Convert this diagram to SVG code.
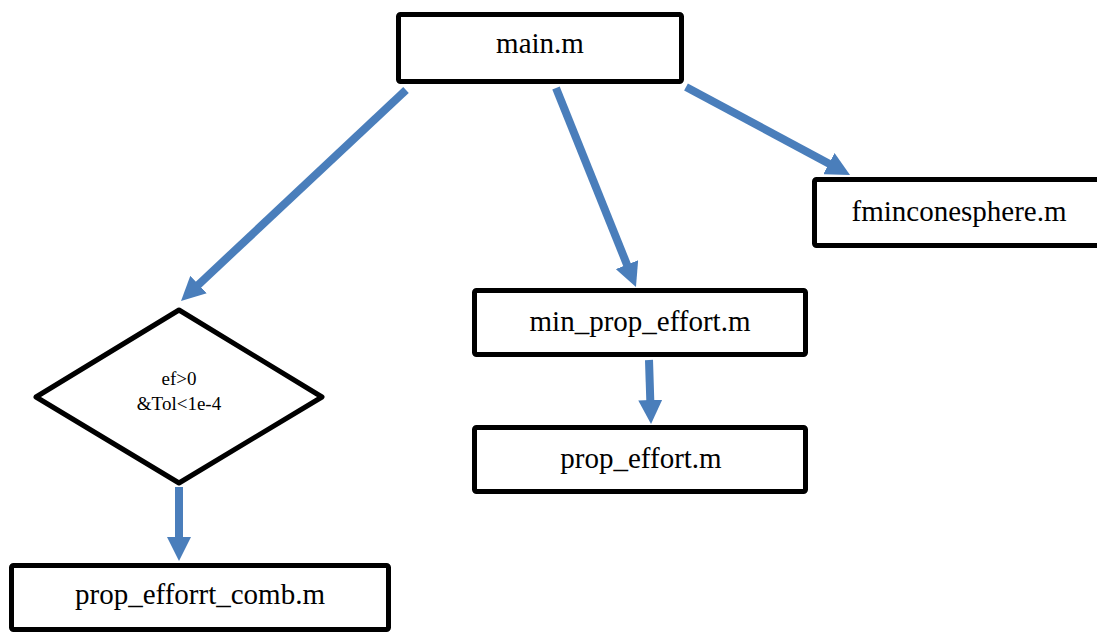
<svg xmlns="http://www.w3.org/2000/svg" width="1097" height="633" viewBox="0 0 1097 633">
<style>
.box{fill:#fff;stroke:#000;stroke-width:5;stroke-linejoin:round}
.lbl{font-family:"Liberation Serif","Times New Roman",serif;font-size:29px;fill:#000;text-anchor:middle}
.small{font-size:19px}
.conn{stroke:#4a7ebb;stroke-width:8;fill:none;marker-end:url(#ah)}
</style>
<defs>
<marker id="ah" markerUnits="userSpaceOnUse" markerWidth="24" markerHeight="24" refX="4" refY="12" orient="auto">
<path d="M0,0 L24,12 L0,24 z" fill="#4a7ebb"/>
</marker>
</defs>
<rect width="1097" height="633" fill="#fff"/>
<g id="connectors">
<line class="conn" x1="406" y1="90" x2="195.6" y2="287.3"/>
<line class="conn" x1="556" y1="88" x2="628.5" y2="268.4"/>
<line class="conn" x1="686" y1="87" x2="832.4" y2="165.5"/>
<line class="conn" x1="649" y1="360" x2="650.4" y2="404"/>
<line class="conn" x1="179" y1="487" x2="179" y2="541"/>
</g>
<g id="main">
<rect class="box" x="398.5" y="14.5" width="283" height="67" rx="2"/>
<text class="lbl" x="540" y="53">main.m</text>
</g>
<g id="fminconesphere">
<rect class="box" x="814.5" y="179.5" width="300" height="66" rx="2"/>
<text class="lbl" x="959" y="221">fminconesphere.m</text>
</g>
<g id="min_prop_effort">
<rect class="box" x="474.5" y="290.5" width="331" height="64" rx="2"/>
<text class="lbl" x="640" y="331">min_prop_effort.m</text>
</g>
<g id="prop_effort">
<rect class="box" x="474.5" y="427.5" width="331" height="64" rx="2"/>
<text class="lbl" x="641" y="468">prop_effort.m</text>
</g>
<g id="decision">
<polygon class="box" points="36,397 179,310 322,397 179,483"/>
<text class="lbl small" x="179" y="385">ef&gt;0</text>
<text class="lbl small" x="179" y="410">&amp;Tol&lt;1e-4</text>
</g>
<g id="prop_efforrt_comb">
<rect class="box" x="11.5" y="565.5" width="377" height="64" rx="2"/>
<text class="lbl" x="200" y="604">prop_efforrt_comb.m</text>
</g>
</svg>
